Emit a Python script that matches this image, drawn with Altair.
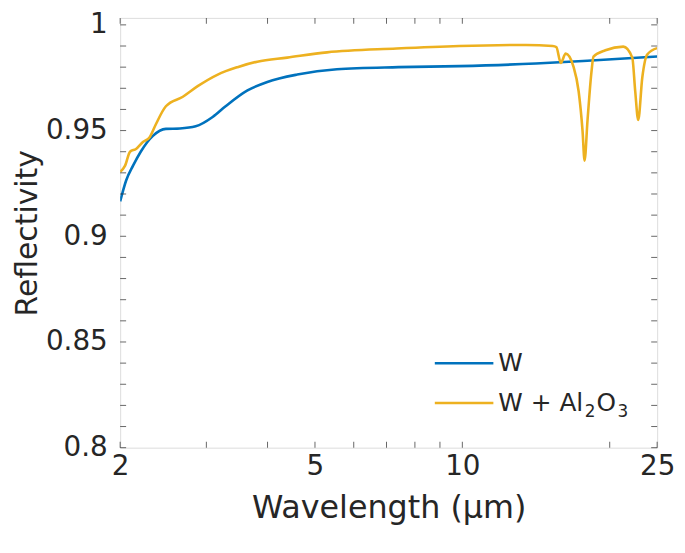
import altair as alt
import pandas as pd

# ---- data ----
wl_w = [2.00, 2.057, 2.125, 2.203, 2.333, 2.48, 2.649, 2.853, 3.09, 3.284, 3.64,
        3.996, 4.60, 5.544, 7.40, 9.856, 14.13, 18.0, 25.0]
ref_w = [0.9165, 0.9264, 0.9334, 0.940, 0.9475, 0.9508, 0.951, 0.952, 0.9564, 0.9615,
         0.969, 0.973, 0.9765, 0.979, 0.9800, 0.9805, 0.9817, 0.983, 0.985]

wl_o = [2.00, 2.047, 2.095, 2.155, 2.226, 2.30, 2.366, 2.48, 2.686, 2.88, 3.165,
        3.473, 3.812, 4.388, 5.291, 7.34, 9.856, 13.49, 15.30, 15.56, 15.89, 16.26,
        16.88, 17.28, 17.60, 17.77, 18.02, 18.36, 18.53, 19.60, 21.32, 22.24, 22.55,
        22.87, 23.31, 23.86, 25.0]
ref_o = [0.9305, 0.9334, 0.940, 0.9413, 0.9446, 0.947, 0.953, 0.9615, 0.966, 0.971,
         0.9765, 0.980, 0.9826, 0.9845, 0.987, 0.9888, 0.990, 0.9905, 0.990, 0.9895,
         0.982, 0.9864, 0.980, 0.9686, 0.950, 0.9358, 0.955, 0.978, 0.985, 0.988,
         0.9897, 0.9845, 0.9686, 0.955, 0.975, 0.986, 0.989]

series_names = ["W", "W + Al2O3"]
series_colors = ["#0072BD", "#EDB120"]

x_tick_vals = [2, 3, 4, 5, 6, 7, 8, 9, 10, 20, 25]
x_label_vals = [2, 5, 10, 25]
y_tick_vals = [round(0.80 + 0.01 * i, 2) for i in range(21)]
y_label_vals = [0.8, 0.85, 0.9, 0.95, 1.0]

W, H = 541, 433
FONT = "DejaVu Sans"
INK = "#262626"

df = pd.concat([
    pd.DataFrame({"wl": wl_w, "r": ref_w, "s": series_names[0]}),
    pd.DataFrame({"wl": wl_o, "r": ref_o, "s": series_names[1]}),
])

xscale = alt.Scale(type="log", domain=[2, 25], nice=False)
yscale = alt.Scale(domain=[0.8, 1.0033], nice=False, zero=False)

xaxis = alt.Axis(values=x_label_vals, title="Wavelength (μm)", ticks=False,
                 domain=False, grid=False, labelFontSize=28, labelFont=FONT,
                 labelColor=INK, labelPadding=5, titleFontSize=32,
                 titleFont=FONT, titleFontWeight="normal", titleColor=INK,
                 titlePadding=12, labelFlush=False)
yaxis = alt.Axis(values=y_label_vals, title="Reflectivity",
                 ticks=False, domain=False, grid=False, labelFontSize=28,
                 labelFont=FONT, labelColor=INK, labelPadding=13,
                 labelExpr="toString(datum.value)", titleFontSize=30,
                 titleFont=FONT, titleFontWeight="normal", titleColor=INK,
                 titlePadding=3, labelFlush=False)

cscale = alt.Scale(domain=series_names, range=series_colors)

lines = alt.Chart(df).mark_line(strokeWidth=2.6, clip=True, interpolate="monotone").encode(
    x=alt.X("wl:Q", scale=xscale, axis=xaxis),
    y=alt.Y("r:Q", scale=yscale, axis=yaxis),
    color=alt.Color("s:N", scale=cscale, legend=None),
    detail="s:N",
    order="wl:Q",
)

xt = pd.DataFrame({"v": x_tick_vals})
yt = pd.DataFrame({"v": y_tick_vals})
TL = 6
tick_style = dict(color=INK, thickness=1, size=TL)

xb = alt.Chart(xt).mark_tick(**tick_style).encode(
    x=alt.X("v:Q", scale=xscale, axis=xaxis), y=alt.value(H - TL / 2))
xtop = alt.Chart(xt).mark_tick(**tick_style).encode(
    x=alt.X("v:Q", scale=xscale, axis=xaxis), y=alt.value(TL / 2))
yl = alt.Chart(yt).mark_tick(**tick_style).encode(
    y=alt.Y("v:Q", scale=yscale, axis=yaxis), x=alt.value(TL / 2))
yr = alt.Chart(yt).mark_tick(**tick_style).encode(
    y=alt.Y("v:Q", scale=yscale, axis=yaxis), x=alt.value(W - TL / 2))

# ---- legend (drawn manually for the subscripts) ----
def leg_line(color, y):
    return alt.Chart(pd.DataFrame({"a": [0]})).mark_rule(
        strokeWidth=2.6, color=color
    ).encode(x=alt.value(317), x2=alt.value(376), y=alt.value(y))

def txt(t, x, y, size):
    return alt.Chart(pd.DataFrame({"t": [t]})).mark_text(
        align="left", baseline="middle", font=FONT, fontSize=size, color=INK
    ).encode(text="t:N", x=alt.value(x), y=alt.value(y))

legend = (leg_line(series_colors[0], 348) + leg_line(series_colors[1], 388) +
          txt("W", 381, 348, 25) + txt("W + Al", 381, 388, 25) +
          txt("2", 468, 397, 17) + txt("O", 480, 388, 25) + txt("3", 501, 397, 17))

chart = alt.layer(lines, xb, xtop, yl, yr, legend).properties(
    width=W, height=H,
    autosize=alt.AutoSizeParams(type="none"),
    padding={"left": 113, "top": 8, "right": 20, "bottom": 85},
).configure_view(stroke=INK, strokeWidth=1).configure(background="white")

chart.save("out.html", embed_options={"renderer": "svg", "actions": False})
